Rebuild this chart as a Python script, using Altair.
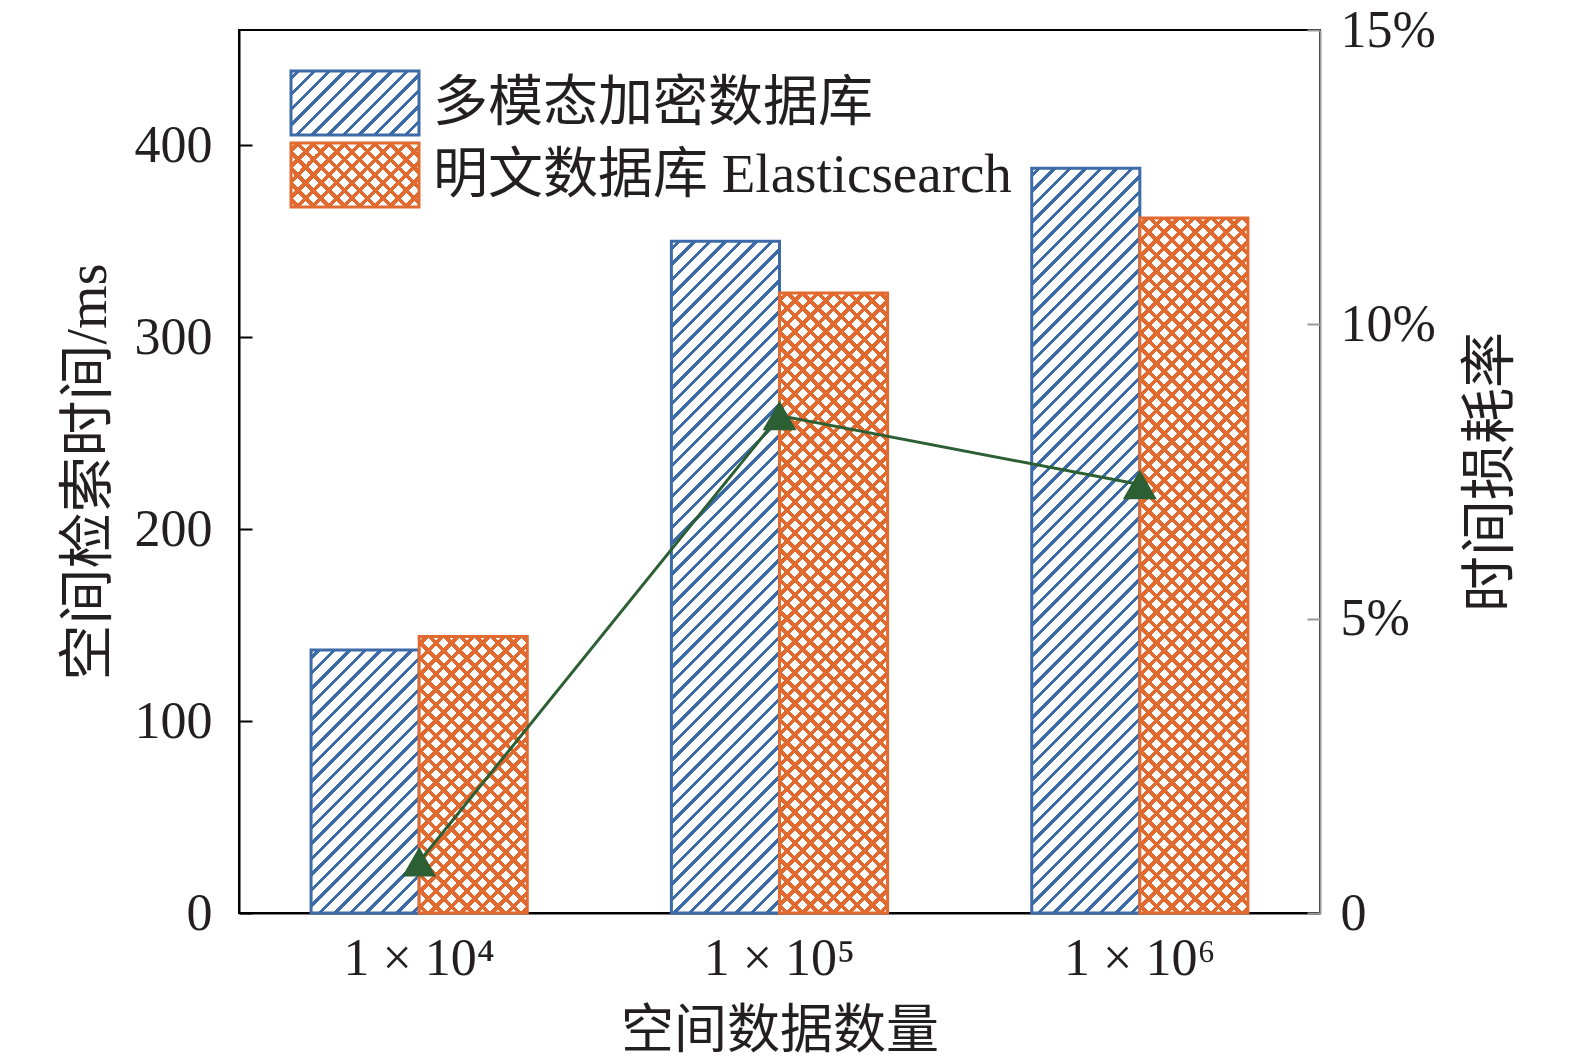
import altair as alt
import pandas as pd

# ---------------- data ----------------
categories = ["1 × 10⁴", "1 × 10⁵", "1 × 10⁶"]
series = ["多模态加密数据库", "明文数据库 Elasticsearch"]
encrypted_ms = [137, 350, 388]
plain_ms = [144, 323, 362]
loss_rate = [0.87, 8.45, 7.28]
left_ticks = [0, 100, 200, 300, 400]
right_ticks = [0, 5, 10, 15]

# ---------------- style ----------------
Y_MAX = 460
R_MAX = 15
W = 1081
H = 883
PAD_INNER, PAD_OUTER = 0.4, 0.2
STEP = W / (len(categories) - PAD_INNER + 2 * PAD_OUTER)
BAR_W = STEP * (1 - PAD_INNER) / 2

BLUE = "#3d6ba8"
ORANGE = "#e06a30"
GREEN = "#2d5f34"
TXT = "#231f20"
FONT = "Liberation Serif, Noto Sans CJK SC"
WHITE = "#ffffff"
CLEAR = "rgba(255,255,255,0)"


def stripes(w, h, color, bg, period, thick, direction):
    """Linear gradient (SVG bbox units) imitating 45-degree hatch lines."""
    total = w + h
    k = (w + h) / (w * w + h * h)
    a, b = w * k, h * k
    stops = [{"offset": 0, "color": bg}]
    s = period / 2 - thick / 2
    while s < total:
        o1 = round(s / total, 5)
        o2 = round(min((s + thick) / total, 1), 5)
        stops += [
            {"offset": o1, "color": bg},
            {"offset": o1, "color": color},
            {"offset": o2, "color": color},
            {"offset": o2, "color": bg},
        ]
        s += period
    stops.append({"offset": 1, "color": bg})
    if direction == "up":
        return {"gradient": "linear", "x1": 0, "y1": 0, "x2": a, "y2": b, "stops": stops}
    return {"gradient": "linear", "x1": 0, "y1": 1, "x2": a, "y2": 1 - b, "stops": stops}


PERIOD = 15.5
BLUE_T = 4.5
ORANGE_T = 5.5

df = pd.DataFrame({
    "cat": categories * 2,
    "series": [series[0]] * 3 + [series[1]] * 3,
    "ms": encrypted_ms + plain_ms,
})
line_df = pd.DataFrame({"cat": categories, "rate": loss_rate})
legend_df = pd.DataFrame({"series": series})

x_enc = alt.X(
    "cat:N",
    sort=categories,
    scale=alt.Scale(domain=categories, paddingInner=PAD_INNER, paddingOuter=PAD_OUTER),
    axis=alt.Axis(
        title="空间数据数量", titleFontSize=53, labelAngle=0, bandPosition=0.5,
        tickSize={"expr": "-13"}, tickColor="black", tickWidth=2,
        domainColor="black", domainWidth=2, labelPadding=33, titlePadding=21,
    ),
)
xo_enc = alt.XOffset("series:N", scale=alt.Scale(domain=series, paddingInner=0, paddingOuter=0))
y_enc = alt.Y(
    "ms:Q",
    scale=alt.Scale(domain=[0, Y_MAX], nice=False, zero=True),
    axis=alt.Axis(
        title="空间检索时间/ms", values=left_ticks, grid=False,
        tickSize={"expr": "-13"}, tickColor="black", tickWidth=2,
        domainColor="black", domainWidth=2, labelPadding=40, titlePadding=17,
    ),
)

layers = []
for si, (s, vals) in enumerate(zip(series, [encrypted_ms, plain_ms])):
    for c, v in zip(categories, vals):
        h = v / Y_MAX * H
        base = alt.Chart(df).transform_filter(
            (alt.datum.cat == c) & (alt.datum.series == s)
        )
        if si == 0:
            layers.append(
                base.mark_bar(
                    fill=stripes(BAR_W, h, BLUE, WHITE, PERIOD, BLUE_T, "up"),
                    stroke=BLUE, strokeWidth=3,
                ).encode(x=x_enc, xOffset=xo_enc, y=y_enc)
            )
        else:
            layers.append(
                base.mark_bar(
                    fill=stripes(BAR_W, h, ORANGE, WHITE, PERIOD, ORANGE_T, "up"),
                    strokeWidth=0,
                ).encode(x=x_enc, xOffset=xo_enc, y=y_enc)
            )
            layers.append(
                base.mark_bar(
                    fill=stripes(BAR_W, h, ORANGE, CLEAR, PERIOD, ORANGE_T, "down"),
                    stroke=ORANGE, strokeWidth=3,
                ).encode(x=x_enc, xOffset=xo_enc, y=y_enc)
            )

# legend (custom, hatched swatches)
SW_X, SW_X2 = 52, 180
SW_W = SW_X2 - SW_X
SW_H = 64
sw1 = alt.Chart(legend_df).transform_filter(alt.datum.series == series[0]).mark_rect(
    fill=stripes(SW_W, SW_H, BLUE, WHITE, PERIOD, BLUE_T, "up"), stroke=BLUE, strokeWidth=3
).encode(x=alt.value(SW_X), x2=alt.value(SW_X2), y=alt.value(41), y2=alt.value(41 + SW_H))
sw2a = alt.Chart(legend_df).transform_filter(alt.datum.series == series[1]).mark_rect(
    fill=stripes(SW_W, SW_H, ORANGE, WHITE, PERIOD, ORANGE_T, "up"), strokeWidth=0
).encode(x=alt.value(SW_X), x2=alt.value(SW_X2), y=alt.value(113), y2=alt.value(113 + SW_H))
sw2b = alt.Chart(legend_df).transform_filter(alt.datum.series == series[1]).mark_rect(
    fill=stripes(SW_W, SW_H, ORANGE, CLEAR, PERIOD, ORANGE_T, "down"), stroke=ORANGE, strokeWidth=3
).encode(x=alt.value(SW_X), x2=alt.value(SW_X2), y=alt.value(113), y2=alt.value(113 + SW_H))
lt1 = alt.Chart(legend_df).transform_filter(alt.datum.series == series[0]).mark_text(
    align="left", baseline="middle", font=FONT, fontSize=55, color=TXT
).encode(x=alt.value(194), y=alt.value(73), text="series:N")
lt2 = alt.Chart(legend_df).transform_filter(alt.datum.series == series[1]).mark_text(
    align="left", baseline="middle", font=FONT, fontSize=55, color=TXT
).encode(x=alt.value(194), y=alt.value(145), text="series:N")

bars = alt.layer(*layers, sw1, sw2a, sw2b, lt1, lt2)

r_enc = alt.Y(
    "rate:Q",
    scale=alt.Scale(domain=[0, R_MAX], nice=False, zero=True),
    axis=alt.Axis(
        orient="right", title="时间损耗率", titleAngle=270, values=right_ticks, grid=False,
        labelExpr="datum.value == 0 ? '0' : datum.value + '%'",
        tickSize={"expr": "-13"}, tickColor="#999999", tickWidth=2,
        domainColor="#999999", domainWidth=2, labelPadding=33, titlePadding=84,
    ),
)
line = alt.Chart(line_df).mark_line(color=GREEN, strokeWidth=3).encode(x=x_enc, y=r_enc)
pts = alt.Chart(line_df).mark_point(
    shape="triangle-up", filled=True, size=1156, color=GREEN, opacity=1
).encode(x=x_enc, y=r_enc)

chart = (
    alt.layer(bars, alt.layer(line, pts))
    .resolve_scale(y="independent")
    .properties(
        width=W, height=H,
        padding={"left": 231, "top": 22, "right": 225, "bottom": 150},
        autosize=alt.AutoSizeParams(type="none"),
        background="white",
    )
    .configure_view(stroke="black", strokeWidth=2)
    .configure_axis(
        labelFont=FONT, titleFont=FONT, labelFontSize=52, titleFontSize=56,
        labelColor=TXT, titleColor=TXT, titleFontWeight="normal", zindex=1,
    )
)

chart.save("out.html", embed_options={"renderer": "svg", "actions": False})
